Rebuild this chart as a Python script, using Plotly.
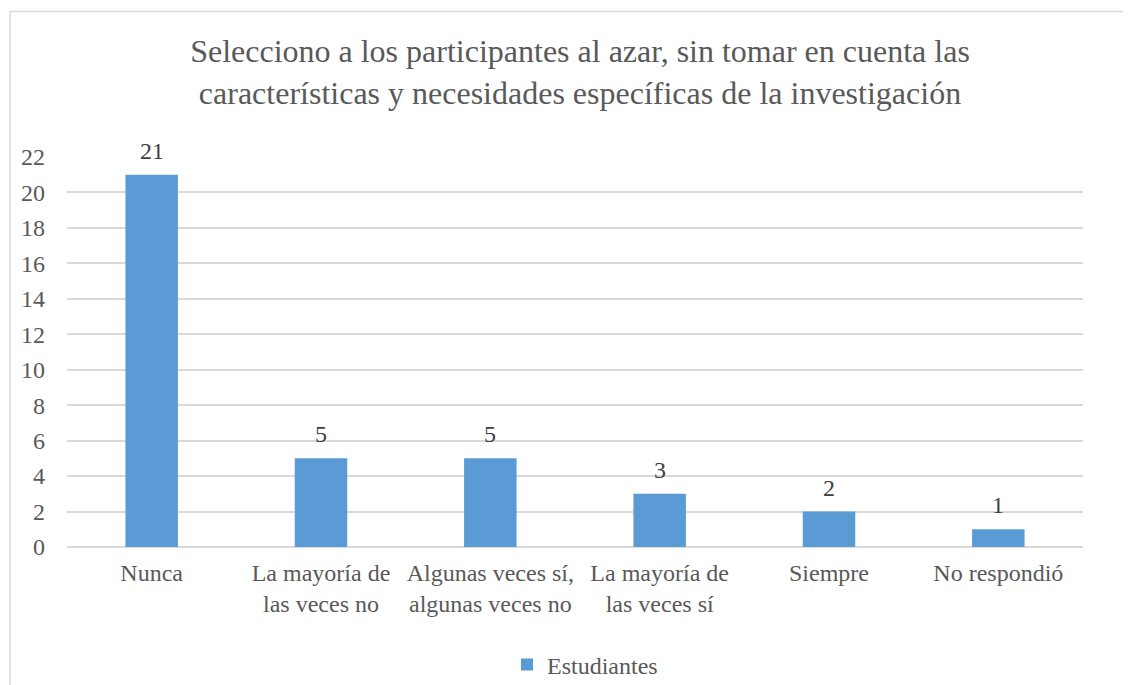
import plotly.graph_objects as go

categories = ["Nunca", "La mayoría de<br>las veces no", "Algunas veces sí,<br>algunas veces no",
              "La mayoría de<br>las veces sí", "Siempre", "No respondió"]
values = [21, 5, 5, 3, 2, 1]
series_name = "Estudiantes"
title_text = ("Selecciono a los participantes al azar, sin tomar en cuenta las<br>"
              "características y necesidades específicas de la investigación")

W, H = 1131, 685
OFF = 8  # page body margin offset
L, R, T, B = 67 - OFF, 1083 - OFF, 157 - OFF, 547 - OFF
pw, ph = R - L, B - T

FONT = "Liberation Serif"
fig = go.Figure(go.Bar(
    x=categories, y=values, name=series_name,
    marker=dict(color="#5B9BD5", line=dict(width=0)),
    showlegend=True,
))

for c, v in zip(categories, values):
    fig.add_annotation(x=c, y=v, text=str(v), showarrow=False, yanchor="bottom", yshift=9,
                       font=dict(family=FONT, size=24, color="#404040"))

fig.update_layout(
    width=W, height=H,
    margin=dict(l=L, r=W - R, t=T, b=H - B, autoexpand=False),
    paper_bgcolor="white", plot_bgcolor="white",
    bargap=0.69,
    font=dict(family=FONT, size=24, color="#595959"),
    title=dict(text=title_text, x=(580 - OFF) / W, xanchor="center", xref="container",
               y=1 - 54 / H, yanchor="top", yref="container",
               font=dict(family=FONT, size=32, color="#595959")),
    xaxis=dict(showgrid=False, showline=False, ticks="", tickfont=dict(family=FONT, size=24, color="#595959"),
               ticklabelstandoff=9),
    yaxis=dict(range=[0, 22], dtick=2, showgrid=True, gridcolor="#D9D9D9", gridwidth=1.5,
               zeroline=True, zerolinecolor="#D9D9D9", zerolinewidth=1.5, showline=False,
               ticks="", tickfont=dict(family=FONT, size=24, color="#595959"), ticklabelstandoff=21),
    legend=dict(orientation="h", x=0.5 + 10 / pw, xanchor="center", y=(B - (665 - OFF)) / ph, yanchor="middle",
                font=dict(family=FONT, size=24, color="#595959"), itemwidth=30),
    shapes=[dict(type="rect", xref="paper", yref="paper",
                 x0=(10 - OFF - L) / pw, x1=(1145 - L) / pw,
                 y0=(B - 700) / ph, y1=(B - (11.5 - OFF)) / ph,
                 line=dict(color="#D9D9D9", width=1.5), fillcolor="rgba(0,0,0,0)", layer="below")],
)

fig.write_html("out.html")
